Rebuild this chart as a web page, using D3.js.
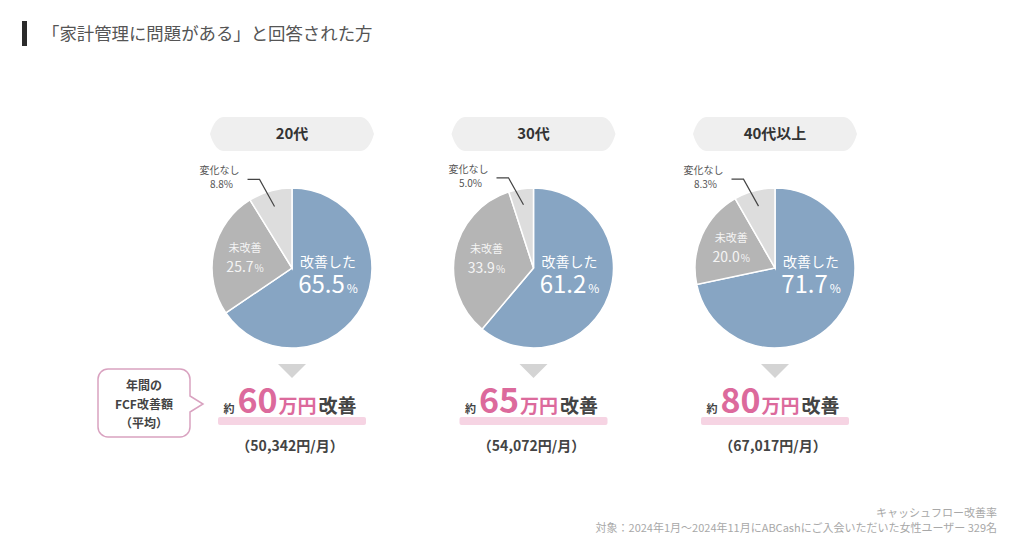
<!DOCTYPE html>
<html>
<head>
<meta charset="utf-8">
<script src="https://cdn.jsdelivr.net/npm/d3@7"></script>
<style>
  html, body { margin: 0; padding: 0; background: #ffffff; }
  svg { display: block; font-family: "Noto Sans CJK JP", "Noto Sans", sans-serif; }
</style>
</head>
<body>
<div id="chart-container"></div>
<script>
// values
var groups = ["20代", "30代", "40代以上"];
var categories = ["改善した", "未改善", "変化なし"];
var improved = [65.5, 61.2, 71.7];
var notImproved = [25.7, 33.9, 20.0];
var noChange = [8.8, 5.0, 8.3];
var annualAmount = [60, 65, 80];      // 万円
var monthlyAmount = [50342, 54072, 67017]; // 円/月

var titleText = "「家計管理に問題がある」と回答された方";
var noteLines = ["キャッシュフロー改善率", "対象：2024年1月～2024年11月にABCashにご入会いただいた女性ユーザー 329名"];
var calloutLines = ["年間の", "FCF改善額", "（平均）"];

var sliceColors = ["#87a5c3", "#b5b5b5", "#dddddd"];
var pink = "#dc6a9c";
var dark = "#444444";

function draw() {
    var width = 1024, height = 551;
    var svg = d3.select("#chart-container")
        .append("svg")
        .attr("width", width)
        .attr("height", height);

    // title
    svg.append("rect")
        .attr("x", 22).attr("y", 21)
        .attr("width", 5).attr("height", 25)
        .attr("fill", "#2b2b2b");
    svg.append("text")
        .attr("x", 42).attr("y", 40)
        .attr("font-size", 17.4)
        .attr("fill", "#555")
        .text(titleText);

    var xScale = d3.scalePoint()
        .domain(groups)
        .range([292, 775]);
    var cy = 268, radius = 80;

    var color = d3.scaleOrdinal().domain(categories).range(sliceColors);
    var pie = d3.pie().sort(null).value(d => d.value);
    var arc = d3.arc().innerRadius(0).outerRadius(radius);
    var fmt = d3.format(".1f");

    groups.forEach(function(g, i) {
        var cx = xScale(g);
        var vals = [improved[i], notImproved[i], noChange[i]];
        var slices = pie(categories.map((c, k) => ({ cat: c, value: vals[k] })));

        // header pill
        var pw = 164, ph = 34, py = 117;
        var px0 = cx - pw / 2, px1 = cx + pw / 2, pm = py + ph / 2;
        var pill = d3.path();
        pill.moveTo(px0 + 14, py);
        pill.lineTo(px1 - 14, py);
        pill.quadraticCurveTo(px1 - 5, py, px1, pm);
        pill.quadraticCurveTo(px1 - 5, py + ph, px1 - 14, py + ph);
        pill.lineTo(px0 + 14, py + ph);
        pill.quadraticCurveTo(px0 + 5, py + ph, px0, pm);
        pill.quadraticCurveTo(px0 + 5, py, px0 + 14, py);
        pill.closePath();
        svg.append("path").attr("d", pill.toString()).attr("fill", "#efefef");
        svg.append("text")
            .attr("x", cx).attr("y", pm + 5)
            .attr("text-anchor", "middle")
            .attr("font-size", 15).attr("font-weight", 700)
            .attr("fill", "#333")
            .text(g);

        // pie
        var pg = svg.append("g").attr("transform", `translate(${cx},${cy})`);
        pg.selectAll("path")
            .data(slices)
            .enter()
            .append("path")
            .attr("d", arc)
            .attr("fill", d => color(d.data.cat))
            .attr("stroke", "#fff")
            .attr("stroke-width", 1.5);

        // 改善した label (two lines in one text)
        var t1 = pg.append("text")
            .attr("text-anchor", "middle").attr("fill", "#fff");
        t1.append("tspan")
            .attr("x", 36).attr("y", -1)
            .attr("font-size", 14)
            .text(categories[0]);
        t1.append("tspan")
            .attr("x", 36).attr("y", 25)
            .attr("font-size", 24)
            .text(fmt(improved[i]));
        t1.append("tspan").attr("font-size", 12).attr("dx", 2).text("%");

        // 未改善 label at slice centroid
        var c = d3.arc().innerRadius(0).outerRadius(96).centroid(slices[1]);
        var t3 = pg.append("text")
            .attr("text-anchor", "middle").attr("fill", "#f4f4f4");
        t3.append("tspan")
            .attr("x", c[0]).attr("y", c[1] - 6)
            .attr("font-size", 11)
            .text(categories[1]);
        t3.append("tspan")
            .attr("x", c[0]).attr("y", c[1] + 14)
            .attr("font-size", 14)
            .text(fmt(notImproved[i]));
        t3.append("tspan").attr("font-size", 10).attr("dx", 1).text("%");

        // 変化なし label with leader (end point at 0.8 r inside the slice)
        var e = d3.arc().innerRadius(0).outerRadius(radius * 1.6).centroid(slices[2]);
        var ex = e[0], ey = e[1];
        var elbowX = ex - 15, elbowY = ey - 27;
        pg.append("path")
            .attr("d", `M${elbowX - 12},${elbowY}L${elbowX},${elbowY}L${ex},${ey}`)
            .attr("fill", "none")
            .attr("stroke", "#444")
            .attr("stroke-width", 1.2);
        pg.append("text")
            .attr("x", elbowX - 40).attr("y", elbowY - 5)
            .attr("text-anchor", "middle")
            .attr("font-size", 10).attr("fill", "#555")
            .text(categories[2]);
        pg.append("text")
            .attr("x", elbowX - 38).attr("y", elbowY + 9)
            .attr("text-anchor", "middle")
            .attr("font-size", 10).attr("fill", "#555")
            .text(fmt(noChange[i]) + "%");

        // triangle
        svg.append("path")
            .attr("d", `M${cx - 14},364L${cx + 14},364L${cx},378Z`)
            .attr("fill", "#d4d4d4");

        // highlight band
        svg.append("rect")
            .attr("x", cx - 74).attr("y", 417)
            .attr("width", 148).attr("height", 8)
            .attr("rx", 2)
            .attr("fill", "#f6d4e3");

        // amount
        var a = svg.append("text")
            .attr("x", cx - 2).attr("y", 413)
            .attr("text-anchor", "middle")
            .attr("font-weight", 700);
        a.append("tspan").attr("font-size", 11).attr("fill", dark).text("約");
        a.append("tspan").attr("font-size", 34).attr("fill", pink).attr("dx", 3).text(annualAmount[i]);
        a.append("tspan").attr("font-size", 19).attr("fill", pink).attr("dx", 1).text("万円");
        a.append("tspan").attr("font-size", 19).attr("fill", dark).attr("dx", 2).text("改善");

        svg.append("text")
            .attr("x", cx - 2).attr("y", 451)
            .attr("text-anchor", "middle")
            .attr("font-size", 14).attr("font-weight", 700)
            .attr("fill", dark)
            .text("（" + d3.format(",")(monthlyAmount[i]) + "円/月）");
    });

    // callout box
    var bx0 = 98, bx1 = 190, by0 = 369, by1 = 437, r = 10, tipY = 404;
    var cp = d3.path();
    cp.moveTo(bx0 + r, by0);
    cp.lineTo(bx1 - r, by0);
    cp.arcTo(bx1, by0, bx1, by0 + r, r);
    cp.lineTo(bx1, tipY - 8);
    cp.lineTo(bx1 + 13, tipY);
    cp.lineTo(bx1, tipY + 8);
    cp.lineTo(bx1, by1 - r);
    cp.arcTo(bx1, by1, bx1 - r, by1, r);
    cp.lineTo(bx0 + r, by1);
    cp.arcTo(bx0, by1, bx0, by1 - r, r);
    cp.lineTo(bx0, by0 + r);
    cp.arcTo(bx0, by0, bx0 + r, by0, r);
    cp.closePath();
    svg.append("path")
        .attr("d", cp.toString())
        .attr("fill", "#fff")
        .attr("stroke", "#d9a2c0")
        .attr("stroke-width", 1.5);
    svg.append("g").selectAll("text")
        .data(calloutLines)
        .enter()
        .append("text")
        .attr("x", 144)
        .attr("y", (d, k) => 390 + k * 19)
        .attr("text-anchor", "middle")
        .attr("font-size", 12).attr("font-weight", 700)
        .attr("fill", dark)
        .text(d => d);

    // notes
    svg.selectAll(".note")
        .data(noteLines)
        .enter()
        .append("text")
        .attr("class", "note")
        .attr("x", 997)
        .attr("y", (d, k) => 517 + k * 15)
        .attr("text-anchor", "end")
        .attr("font-size", 11)
        .attr("fill", "#a8a8a8")
        .text(d => d);
}

draw();
</script>
</body>
</html>
